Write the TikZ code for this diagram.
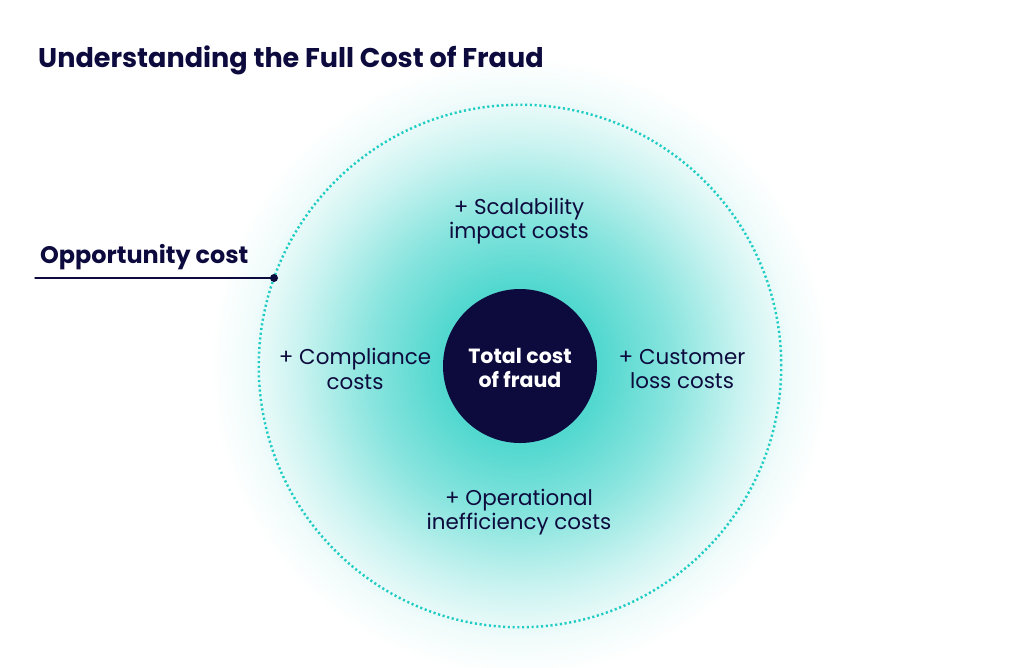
\documentclass[tikz,border=0pt]{standalone}
\usepackage{fontspec}
\setmainfont{Poppins}
\usetikzlibrary{calc}
\usepackage{tkz-euclide}
\definecolor{navy}{HTML}{0D0B3E}
\definecolor{aqua}{HTML}{52D8CF}
\definecolor{dotaqua}{HTML}{1FCCC3}
\pgfdeclareradialshading{glow}{\pgfpoint{0bp}{0bp}}{color(0bp)=(aqua); color(6.5bp)=(aqua); color(12bp)=(aqua!70); color(18bp)=(aqua!30); color(22bp)=(aqua!8); color(25bp)=(white); color(50bp)=(white)}

\begin{document}
\begin{tikzpicture}[x=0.02cm,y=-0.02cm,
  cost/.style={text=navy,align=center,font=\fontsize{12.2}{13.8}\selectfont},
  ring/.style={color=dotaqua,line width=1.4pt,dash pattern=on 1.2pt off 1.5pt}]
\useasboundingbox (0,0) rectangle (1024,667);

\tkzDefPoints{520/366/O,274/278/P,35/278/L}

% Define the glow and the two circles.
\shade[shading=glow] (O) circle[radius=310];
\tkzDrawCircle[ring](O,P)
\fill[navy] (O) circle[radius=77];

\tkzDrawSegment[color=navy,line width=0.8pt](L,P)
\fill[navy] (P) circle[radius=4];

\node[anchor=west,text=navy,font=\fontsize{15.4}{18}\selectfont\bfseries] (title) at (32,60) {Understanding the Full Cost of Fraud};
\node[anchor=west,text=navy,font=\fontsize{13.6}{16}\selectfont\bfseries] (opp) at (34,257) {Opportunity cost};

\node[align=center,text=white,font=\fontsize{11.7}{13.2}\selectfont\bfseries] (total) at (520,368) {Total cost\\of fraud};

\node[cost] (scal) at (519,221) {+ Scalability\\impact costs};
\node[cost] (comp) at (355,369) {+ Compliance\\costs};
\node[cost] (cust) at (682,369) {+ Customer\\loss costs};
\node[cost] (oper) at (519,512) {+ Operational\\inefficiency costs};

% \tkzLabelPoint[right](P){$P$}

\end{tikzpicture}
\end{document}
